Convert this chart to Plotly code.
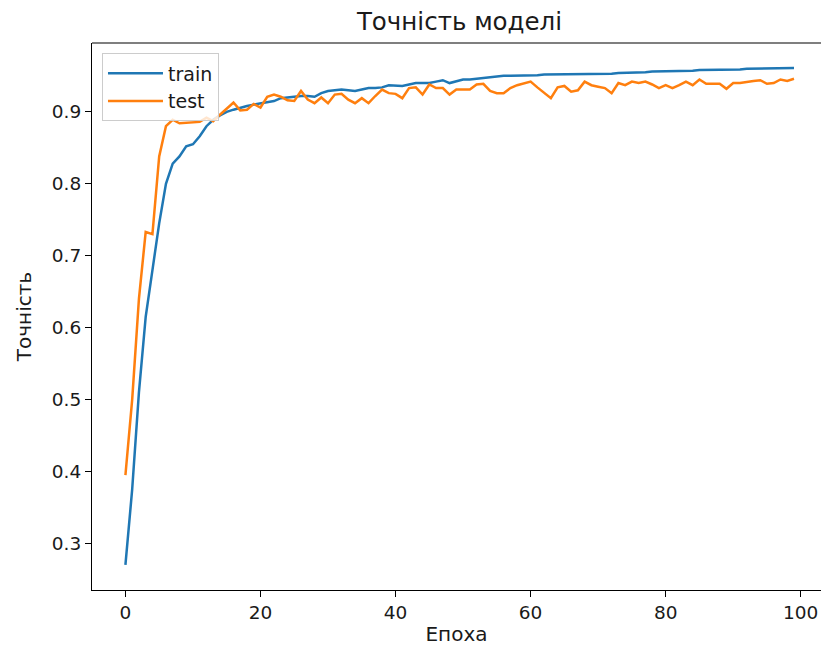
import plotly.graph_objects as go

epochs = list(range(100))

train_acc = [
    0.270, 0.375, 0.510, 0.615, 0.680, 0.745, 0.800, 0.828, 0.838, 0.852,
    0.855, 0.866, 0.880, 0.889, 0.895, 0.900, 0.903, 0.906, 0.908, 0.910,
    0.912, 0.913, 0.915, 0.919, 0.920, 0.922, 0.922, 0.922, 0.921, 0.926,
    0.929, 0.930, 0.931, 0.930, 0.929, 0.931, 0.933, 0.933, 0.934, 0.937,
    0.937, 0.936, 0.938, 0.940, 0.940, 0.940, 0.942, 0.944, 0.940, 0.943,
    0.945, 0.945, 0.946, 0.948, 0.949, 0.949, 0.950, 0.950, 0.950, 0.951,
    0.951, 0.951, 0.952, 0.952, 0.952, 0.952, 0.953, 0.953, 0.953, 0.953,
    0.953, 0.953, 0.953, 0.954, 0.954, 0.954, 0.955, 0.955, 0.956, 0.956,
    0.956, 0.957, 0.957, 0.957, 0.957, 0.958, 0.958, 0.958, 0.958, 0.959,
    0.959, 0.959, 0.960, 0.960, 0.960, 0.960, 0.960, 0.961, 0.961, 0.961,
]

test_acc = [
    0.395, 0.500, 0.640, 0.733, 0.730, 0.838, 0.880, 0.889, 0.884, 0.885,
    0.885, 0.886, 0.892, 0.887, 0.896, 0.905, 0.913, 0.902, 0.903, 0.911,
    0.906, 0.921, 0.924, 0.921, 0.916, 0.915, 0.929, 0.917, 0.912, 0.920,
    0.912, 0.924, 0.925, 0.917, 0.912, 0.919, 0.912, 0.922, 0.931, 0.926,
    0.925, 0.919, 0.933, 0.934, 0.924, 0.938, 0.933, 0.933, 0.924, 0.931,
    0.931, 0.931, 0.938, 0.939, 0.929, 0.926, 0.926, 0.933, 0.937, 0.940,
    0.942, 0.934, 0.926, 0.919, 0.934, 0.936, 0.928, 0.930, 0.942, 0.937,
    0.935, 0.933, 0.926, 0.940, 0.937, 0.942, 0.940, 0.942, 0.938, 0.933,
    0.937, 0.933, 0.937, 0.942, 0.937, 0.945, 0.939, 0.939, 0.939, 0.932,
    0.940, 0.940, 0.942, 0.943, 0.944, 0.939, 0.940, 0.945, 0.943, 0.946,
]

x_ticks = [0, 20, 40, 60, 80, 100]
y_ticks = [0.3, 0.4, 0.5, 0.6, 0.7, 0.8, 0.9]

FONT = "DejaVu Sans"
TXT = "#1a1a1a"

W, H = 821, 651

fig = go.Figure()
fig.add_trace(go.Scatter(x=epochs, y=train_acc, mode="lines", name="train",
                         line=dict(color="#1f77b4", width=2.5)))
fig.add_trace(go.Scatter(x=epochs, y=test_acc, mode="lines", name="test",
                         line=dict(color="#ff7f0e", width=2.5)))

fig.update_layout(
    width=W, height=H,
    margin=dict(l=92, r=0, t=43, b=61),
    paper_bgcolor="white", plot_bgcolor="white",
    font=dict(family=FONT, size=18.5, color=TXT),
    title=dict(text="Точність моделі", x=459.5 / W, xref="container", xanchor="center",
               y=1 - 21.5 / H, yref="container", yanchor="middle",
               font=dict(size=24.5, color=TXT)),
    showlegend=True,
    legend=dict(x=0.0137, y=0.981, xanchor="left", yanchor="top",
                bgcolor="rgba(255,255,255,0.8)", bordercolor="#cccccc", borderwidth=1,
                font=dict(size=19, color=TXT), tracegroupgap=0,
                itemwidth=55, entrywidth=132, entrywidthmode="pixels"),
    xaxis=dict(range=[-4.95, 103.0], tickvals=x_ticks, ticktext=[str(v) for v in x_ticks],
               showgrid=False, zeroline=False, showline=True, linecolor="black", linewidth=1.2,
               ticks="outside", ticklen=6, tickwidth=1.2, tickcolor="black",
               title=dict(text="Епоха", standoff=4, font=dict(size=20))),
    yaxis=dict(range=[0.2352, 0.9957], tickvals=y_ticks, ticktext=[f"{v:.1f}" for v in y_ticks],
               showgrid=False, zeroline=False, showline=True, linecolor="black", linewidth=1.2,
               ticks="outside", ticklen=6, tickwidth=1.2, tickcolor="black",
               title=dict(text="Точність", standoff=14, font=dict(size=20))),
)

fig.add_shape(type="line", xref="paper", yref="paper", x0=0, x1=1, y0=1, y1=1,
              line=dict(color="black", width=1.2))

fig.write_html(
    "out.html",
    config={"displayModeBar": False},
    post_script="document.body.style.margin='0';document.body.style.overflow='hidden';",
)
